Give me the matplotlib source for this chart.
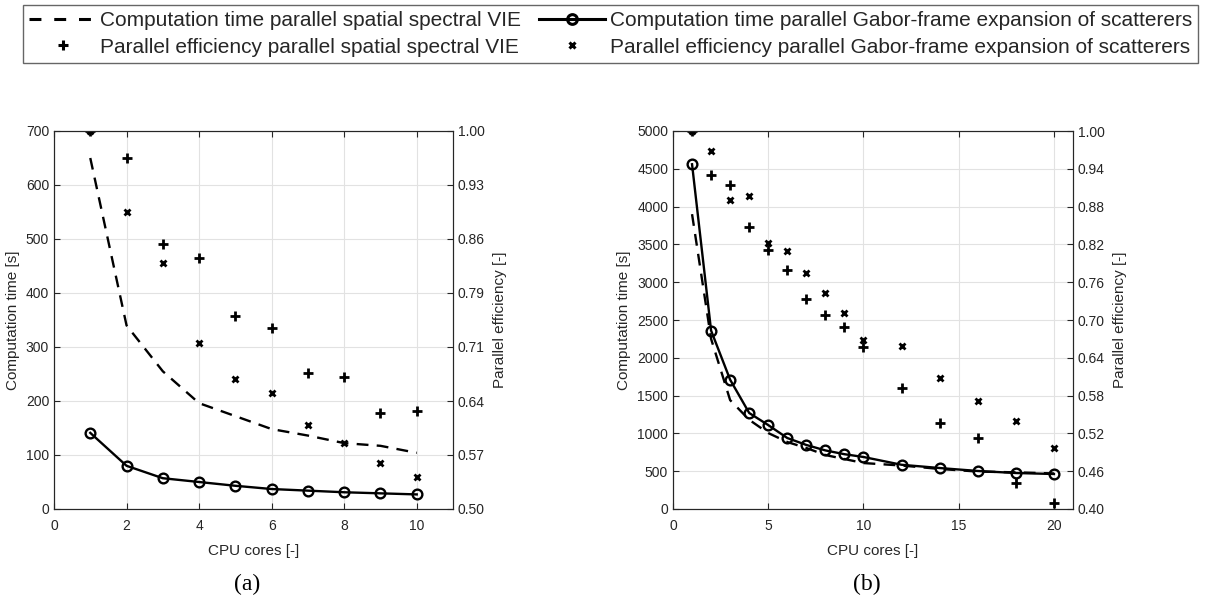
import numpy as np
import matplotlib
matplotlib.use("Agg")
import matplotlib.pyplot as plt
from matplotlib.lines import Line2D

plt.rcParams['font.family'] = ['Liberation Sans', 'DejaVu Sans']

# panel (a): 1..10 cores
cores_a = [1, 2, 3, 4, 5, 6, 7, 8, 9, 10]
time_vie_a = [650, 340, 255, 196, 172, 148, 136, 122, 117, 104]
time_gabor_a = [141, 80, 57, 50, 43, 37, 34, 31, 29, 27]
eff_vie_a = [1.0, 0.964, 0.850, 0.832, 0.755, 0.739, 0.680, 0.675, 0.627, 0.630]
eff_gabor_a = [1.0, 0.893, 0.825, 0.720, 0.672, 0.653, 0.611, 0.587, 0.561, 0.542]

# panel (b): 1..20 cores
cores_b = [1, 2, 3, 4, 5, 6, 7, 8, 9, 10, 12, 14, 16, 18, 20]
time_vie_b = [3900, 2250, 1440, 1180, 1005, 886, 807, 714, 661, 608, 575, 530, 495, 485, 470]
time_gabor_b = [4560, 2360, 1710, 1270, 1110, 939, 847, 775, 725, 688, 585, 542, 503, 476, 463]
eff_vie_b = [1.0, 0.930, 0.914, 0.848, 0.811, 0.779, 0.733, 0.708, 0.689, 0.657,
             0.592, 0.537, 0.513, 0.441, 0.410]
eff_gabor_b = [1.0, 0.968, 0.890, 0.897, 0.822, 0.810, 0.775, 0.743, 0.711, 0.668,
               0.659, 0.608, 0.571, 0.540, 0.497]

labels = ['Computation time parallel spatial spectral VIE',
          'Parallel efficiency parallel spatial spectral VIE',
          'Computation time parallel Gabor-frame expansion of scatterers',
          'Parallel efficiency parallel Gabor-frame expansion of scatterers']

txt = '#262626'
W, H = 1230, 599
fig = plt.figure(figsize=(W / 100, H / 100), dpi=100)


def panel(rect, cores, t_vie, t_gab, e_vie, e_gab, xlim, xticks, ylim, yticks, elim, eticks, tag):
    ax = fig.add_axes(rect)
    ax.plot(cores, t_vie, ls=(0, (5, 3.5)), color='k', lw=1.7)
    ax.plot(cores, t_gab, '-o', color='k', lw=1.7, ms=7, mfc='none', mew=1.7)
    ax.set_xlim(*xlim)
    ax.set_ylim(*ylim)
    ax.set_xticks(xticks)
    ax.set_yticks(yticks)
    ax.grid(True, color='#e2e2e2', lw=0.8)
    ax.set_axisbelow(True)
    ax.tick_params(direction='in', length=4, colors=txt, labelsize=10, top=True)
    ax.tick_params(axis='x', pad=7)
    ax.set_xlabel('CPU cores [-]', fontsize=11, color=txt, labelpad=8)
    ax.set_ylabel('Computation time [s]', fontsize=11, color=txt, labelpad=4)
    for s in ax.spines.values():
        s.set_color(txt)
    ax2 = ax.twinx()
    ax2.plot(cores, e_vie, '+', color='k', ms=6.5, mew=2.0)
    ax2.plot(cores, e_gab, 'x', color='k', ms=4.8, mew=2.0)
    ax2.set_ylim(*elim)
    ax2.set_yticks(eticks)
    ax2.set_yticklabels(['%.2f' % v for v in eticks])
    ax2.tick_params(direction='in', length=4, colors=txt, labelsize=10)
    ax2.set_ylabel('Parallel efficiency [-]', fontsize=11, color=txt, labelpad=6)
    for s in ax2.spines.values():
        s.set_color(txt)
    fig.text(rect[0] + rect[2] * 0.485, 1 - 584 / H, tag, ha='center', va='center',
             fontsize=17, family='Liberation Serif')
    return ax


ax_a = panel([54 / W, 1 - 509 / H, 399 / W, 378 / H], cores_a, time_vie_a, time_gabor_a,
             eff_vie_a, eff_gabor_a, (0, 11), range(0, 11, 2), (0, 700), range(0, 701, 100),
             (0.5, 1.0), np.linspace(0.5, 1.0, 8), '(a)')
ax_b = panel([673 / W, 1 - 509 / H, 400 / W, 378 / H], cores_b, time_vie_b, time_gabor_b,
             eff_vie_b, eff_gabor_b, (0, 21), range(0, 21, 5), (0, 5000), range(0, 5001, 500),
             (0.4, 1.0), np.linspace(0.4, 1.0, 11), '(b)')

handles = [Line2D([], [], color='k', lw=2.2, ls=(0, (3.9, 4.2))),
           Line2D([], [], color='k', marker='+', ls='none', ms=7, mew=2.2),
           Line2D([], [], color='k', lw=2.2, marker='o', ms=7, mfc='none', mew=2.2),
           Line2D([], [], color='k', marker='x', ls='none', ms=5, mew=2.2)]
leg = fig.legend(handles, labels, ncol=2, loc='upper left', bbox_to_anchor=(23 / W, 1 - 5 / H),
                 borderaxespad=0, fontsize=15, frameon=True, fancybox=False,
                 handlelength=3.2, handletextpad=0.2, columnspacing=0.85,
                 borderpad=0.3, labelspacing=0.35, edgecolor='#404040')
leg.get_frame().set_linewidth(1.0)
for t in leg.get_texts():
    t.set_color(txt)

fig.savefig('out.png', dpi=100)
